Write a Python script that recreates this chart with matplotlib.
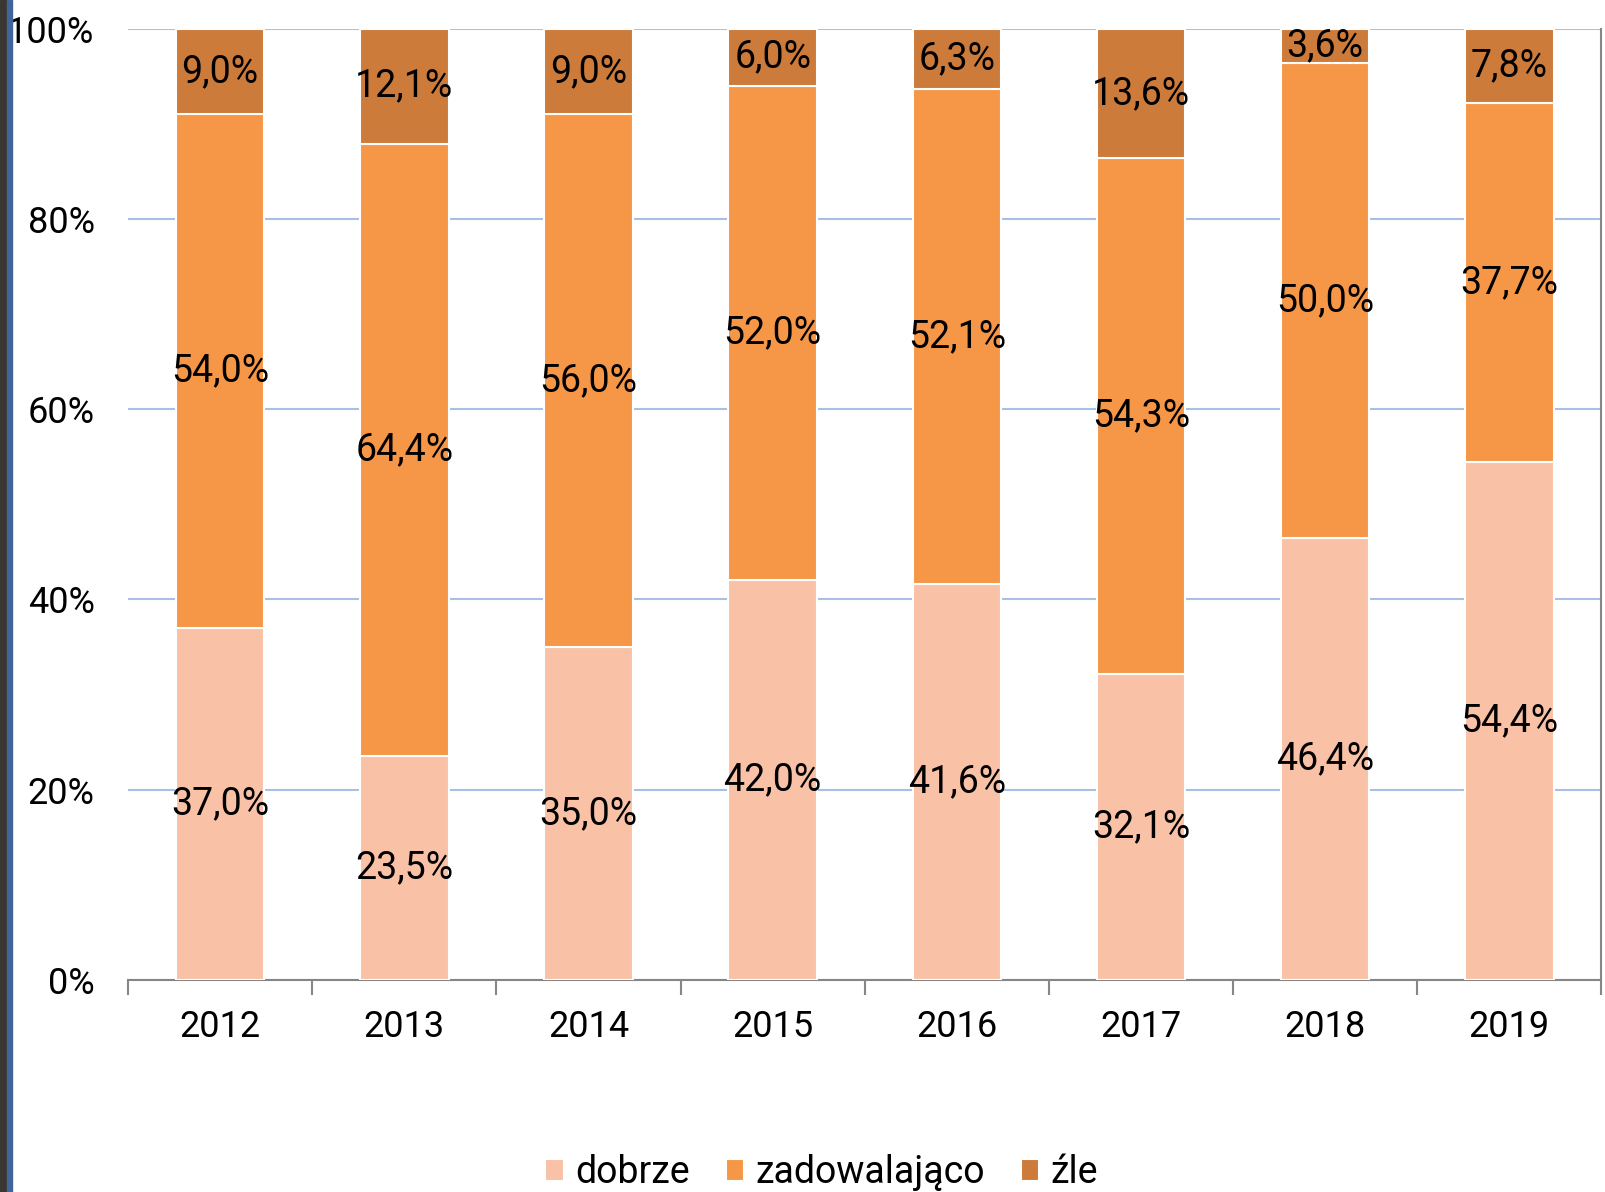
#!/usr/bin/env python3
import numpy as np
import matplotlib
matplotlib.use("Agg")
import matplotlib.pyplot as plt
from matplotlib.patches import Rectangle


YEARS = ["2012", "2013", "2014", "2015", "2016", "2017", "2018", "2019"]
DOBRZE = [37.0, 23.5, 35.0, 42.0, 41.6, 32.1, 46.4, 54.4]
ZADOWALAJACO = [54.0, 64.4, 56.0, 52.0, 52.1, 54.3, 50.0, 37.7]
ZLE = [9.0, 12.1, 9.0, 6.0, 6.3, 13.6, 3.6, 7.8]
SERIES = ["dobrze", "zadowalająco", "źle"]
COLORS = ["#F9C2A7", "#F69647", "#CC7B3A"]
YTICKS = [0, 20, 40, 60, 80, 100]


def fmt(v):
    return f"{v:.1f}".replace(".", ",") + "%"


def main():
    plt.rcParams['font.family'] = ['Roboto', 'DejaVu Sans']
    fig = plt.figure(figsize=(16.05, 11.92), dpi=100)
    ax = fig.add_axes([0.0798, 0.178, 0.918, 0.798])

    data = np.array([DOBRZE, ZADOWALAJACO, ZLE])
    totals = data.sum(axis=0)
    shares = data / totals * 100
    x = np.arange(len(YEARS))
    bottom = np.zeros(len(YEARS))
    for name, raw, vals, col in zip(SERIES, data, shares, COLORS):
        bars = ax.bar(x, vals, 0.48, bottom=bottom, color=col, edgecolor="white",
                      linewidth=1.5, label=name, zorder=3)
        ax.bar_label(bars, labels=[fmt(v) for v in raw], label_type="center",
                     fontsize=27, color="black")
        bottom += vals

    ax.set_xlim(-0.5, len(YEARS) - 0.5)
    ax.set_ylim(0, 100)
    ax.set_yticks(YTICKS)
    ax.set_yticklabels([f"{t}%" for t in YTICKS], fontsize=26)
    ax.tick_params(axis="y", length=0, pad=24)
    ax.yaxis.grid(True, color="#A9BFE6", linewidth=1.5, zorder=0)
    ax.set_xticks(x)
    ax.set_xticklabels(YEARS, fontsize=26)
    ax.set_xticks(np.arange(-0.5, len(YEARS)), minor=True)
    ax.tick_params(axis="x", which="major", length=0, pad=21)
    ax.tick_params(axis="x", which="minor", length=11, width=1.5, color="#868686")

    for side in ["left", "top"]:
        ax.spines[side].set_visible(False)
    ax.spines["bottom"].set_color("#868686")
    ax.spines["bottom"].set_linewidth(1.5)
    ax.spines["right"].set_color("#868686")
    ax.spines["right"].set_linewidth(1.5)

    fig.legend(loc="center", bbox_to_anchor=(0.512, 0.016), ncol=3, frameon=False,
               fontsize=27, handlelength=0.5, handleheight=0.5, handletextpad=0.3,
               columnspacing=0.95)

    # screenshot edge strips on the left
    fig.patches.append(Rectangle((0, 0), 7 / 1605, 1, transform=fig.transFigure,
                                 color="#3A3632", zorder=10))
    fig.patches.append(Rectangle((7 / 1605, 0), 5 / 1605, 1, transform=fig.transFigure,
                                 color="#41659A", zorder=10))

    fig.savefig("out.png", dpi=100)


if __name__ == '__main__':
    main()
